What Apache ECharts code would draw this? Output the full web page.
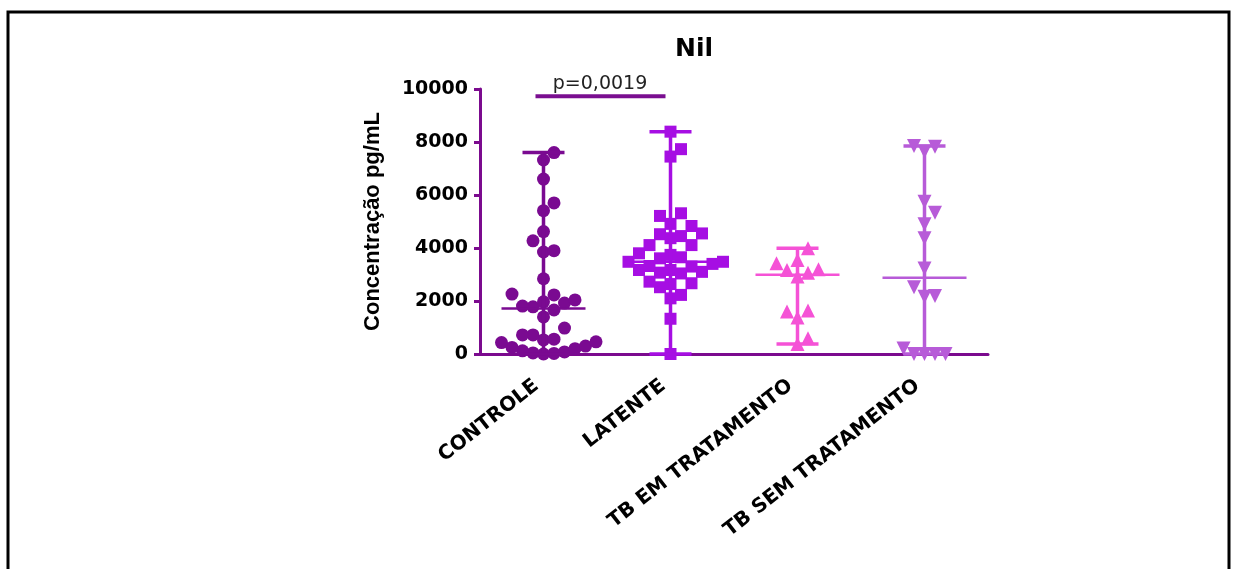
<!DOCTYPE html>
<html>
<head>
<meta charset="utf-8">
<script src="https://cdn.jsdelivr.net/npm/echarts@6/dist/echarts.min.js"></script>
<style>
  html, body { margin: 0; padding: 0; background: #fff; }
  #chart { width: 1237px; height: 569px; }
</style>
</head>
<body>
<div id="chart"></div>
<script>
var categories = ['CONTROLE', 'LATENTE', 'TB EM TRATAMENTO', 'TB SEM TRATAMENTO'];

var controle = [7600, 7320, 6600, 5700, 5410, 4620, 4270, 3900, 3850, 2840, 2260, 2230,
  2040, 1970, 1920, 1810, 1780, 1660, 1400, 980, 720, 720, 560, 530, 460, 430, 300, 250,
  200, 120, 80, 40, 20, 0];
var latente = [8390, 7730, 7450, 5310, 5210, 4910, 4830, 4550, 4520, 4450, 4370, 4110,
  4110, 3800, 3740, 3650, 3610, 3480, 3480, 3400, 3320, 3300, 3170, 3170, 3100, 3070,
  3040, 2730, 2670, 2640, 2520, 2230, 2100, 1330, 0];
var tbEm = [3990, 3550, 3420, 3200, 3170, 3070, 2920, 1640, 1600, 1380, 590, 380];
var tbSem = [7850, 7820, 7640, 5750, 5330, 4900, 4370, 3230, 2520, 2190, 2160, 210, 0, 0, 0, 0];

var yMin = 0, yMax = 10000, yStep = 2000;
var pValue = 'p=0,0019';

var groups = [controle, latente, tbEm, tbSem];
var colors = ['#7a0a91', '#a60ee3', '#f552d6', '#b75bd8'];
var symbols = ['circle', 'rect', 'triangle', 'triangle'];
var rotates = [0, 0, 0, 180];
var sizes = [13, 12, 14, 14];

// column scatter: a point moves to a side column when it would overlap one below it;
// the side with fewer nearby points is tried first so the spread stays balanced
function swarm(values, idx) {
  var pxY = 265 / (yMax - yMin), pxX = 127, colW = 10.5, H = 14;
  var sorted = values.slice().sort(function (a, b) { return a - b; });
  var placed = [], out = [];
  sorted.forEach(function (v) {
    var y = v * pxY, col = 0;
    var near = placed.filter(function (p) { return Math.abs(p[1] - y) < 2 * H; });
    var nL = near.filter(function (p) { return p[0] < 0; }).length;
    var nR = near.filter(function (p) { return p[0] > 0; }).length;
    for (var k = 0; k < 40; k++) {
      var cands = k === 0 ? [0] : (nR <= nL ? [k, -k] : [-k, k]);
      var found = null;
      for (var c = 0; c < cands.length; c++) {
        var ok = placed.every(function (p) { return p[0] !== cands[c] || Math.abs(p[1] - y) >= H; });
        if (ok) { found = cands[c]; break; }
      }
      if (found !== null) { col = found; break; }
    }
    placed.push([col, y]);
    out.push([idx + col * colW / pxX, v]);
  });
  return out;
}

function median(a) {
  var s = a.slice().sort(function (x, y) { return x - y; });
  var m = Math.floor(s.length / 2);
  return s.length % 2 ? s[m] : (s[m - 1] + s[m]) / 2;
}

var stats = groups.map(function (g, i) {
  return [i, Math.min.apply(null, g), median(g), Math.max.apply(null, g)];
});

var chart = echarts.init(document.getElementById('chart'));

var series = groups.map(function (g, i) {
  return {
    type: 'scatter',
    xAxisIndex: 1,
    data: swarm(g, i),
    symbol: symbols[i],
    symbolRotate: rotates[i],
    symbolSize: sizes[i],
    itemStyle: { color: colors[i], opacity: 1 },
    silent: true,
    z: 2
  };
});

series.push({
  type: 'custom',
  xAxisIndex: 1,
  data: stats,
  clip: false,
  z: 3,
  renderItem: function (params, api) {
    var i = api.value(0);
    var lo = api.coord([i, api.value(1)]);
    var md = api.coord([i, api.value(2)]);
    var hi = api.coord([i, api.value(3)]);
    var st = { stroke: colors[i], lineWidth: 3.5 };
    return {
      type: 'group',
      children: [
        { type: 'line', shape: { x1: hi[0], y1: hi[1], x2: lo[0], y2: lo[1] }, style: st },
        { type: 'line', shape: { x1: hi[0] - 21, y1: hi[1], x2: hi[0] + 21, y2: hi[1] }, style: st },
        { type: 'line', shape: { x1: lo[0] - 21, y1: lo[1], x2: lo[0] + 21, y2: lo[1] }, style: st },
        { type: 'line', shape: { x1: md[0] - 42, y1: md[1], x2: md[0] + 42, y2: md[1] },
          style: { stroke: colors[i], lineWidth: 2.5 } }
      ]
    };
  }
});

// significance bar between CONTROLE and LATENTE
series.push({
  type: 'custom',
  xAxisIndex: 1,
  data: [[0, 1, 9730]],
  clip: false,
  z: 3,
  renderItem: function (params, api) {
    var a = api.coord([api.value(0), api.value(2)]);
    var b = api.coord([api.value(1), api.value(2)]);
    return {
      type: 'group',
      children: [
        { type: 'line', shape: { x1: a[0] - 8, y1: a[1], x2: b[0] - 5, y2: b[1] },
          style: { stroke: '#7a0e90', lineWidth: 4 } },
        { type: 'text', style: { text: pValue, x: (a[0] + b[0]) / 2 - 7, y: a[1] - 3,
          align: 'center', verticalAlign: 'bottom', fill: '#222',
          font: '19px "DejaVu Sans", sans-serif' } }
      ]
    };
  }
});

var option = {
  animation: false,
  graphic: [{
    type: 'rect',
    shape: { x: 8, y: 12, width: 1221, height: 600 },
    style: { fill: 'none', stroke: '#000', lineWidth: 3 },
    silent: true
  }, {
    type: 'text',
    left: 675,
    top: 37,
    style: { text: 'Nil', fill: '#000', font: 'bold 25px "DejaVu Sans", sans-serif' }
  }],
  grid: { left: 480, right: 249, top: 89, bottom: 215 },
  xAxis: [{
    type: 'category',
    data: categories,
    boundaryGap: true,
    axisLine: { lineStyle: { color: '#7b0a8e', width: 3 } },
    axisTick: { alignWithLabel: true, length: 6, lineStyle: { color: '#7b0a8e', width: 3 } },
    axisLabel: {
      rotate: 38, interval: 0, margin: 24, padding: [0, 9, 0, 0], color: '#000',
      fontFamily: '"DejaVu Sans"', fontWeight: 'bold', fontSize: 20
    },
    splitLine: { show: false }
  }, {
    type: 'value',
    min: -0.5,
    max: 3.5,
    show: false
  }],
  yAxis: {
    type: 'value',
    min: yMin,
    max: yMax,
    interval: yStep,
    name: 'Concentração pg/mL',
    nameLocation: 'middle',
    nameGap: 96,
    nameTextStyle: {
      fontFamily: '"Liberation Sans", Arial',
      fontWeight: 'bold', fontSize: 22, color: '#000'
    },
    axisLine: { show: true, onZero: false, lineStyle: { color: '#7b0a8e', width: 3 } },
    axisTick: { show: true, length: 6, lineStyle: { color: '#7b0a8e', width: 3 } },
    axisLabel: {
      margin: 12, color: '#000',
      fontFamily: '"DejaVu Sans"', fontWeight: 'bold', fontSize: 19,
      formatter: function (v) { return String(v); }
    },
    splitLine: { show: false }
  },
  series: series
};

chart.setOption(option);
</script>
</body>
</html>
